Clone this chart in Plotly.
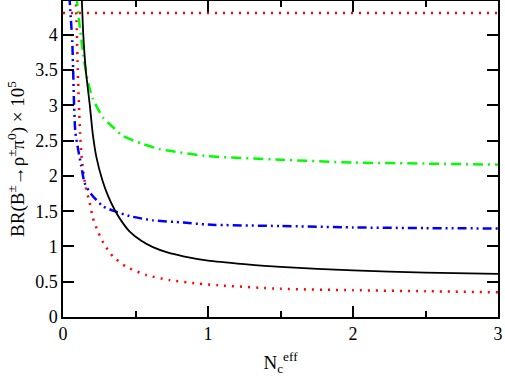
import plotly.graph_objects as go

# curves: N_c^eff -> BR x 10^5
black_x = [0.128, 0.14, 0.157, 0.185, 0.205, 0.23, 0.27, 0.31, 0.356, 0.4, 0.46, 0.54,
           0.62, 0.72, 0.83, 1.0, 1.25, 1.5, 2.0, 2.5, 3.0]
black_y = [4.6, 4.0, 3.5, 3.0, 2.6, 2.27, 1.95, 1.72, 1.52, 1.37, 1.21, 1.08,
           0.99, 0.915, 0.86, 0.80, 0.75, 0.71, 0.66, 0.63, 0.61]

green_x = [0.093, 0.105, 0.12, 0.14, 0.172, 0.207, 0.275, 0.345, 0.41, 0.54, 0.665,
           0.756, 1.0, 1.5, 2.0, 2.5, 3.0]
green_y = [4.55, 4.3, 4.05, 3.71, 3.33, 3.09, 2.83, 2.69, 2.57, 2.46, 2.38,
           2.35, 2.28, 2.23, 2.19, 2.175, 2.16]

blue_x = [0.044, 0.055, 0.064, 0.07, 0.075, 0.085, 0.104, 0.126, 0.149, 0.195, 0.275,
          0.356, 0.46, 0.62, 0.83, 1.0, 1.5, 2.0, 2.5, 3.0]
blue_y = [4.55, 4.2, 3.9, 3.5, 3.1, 2.62, 2.38, 2.14, 1.9, 1.74, 1.57,
          1.5, 1.43, 1.37, 1.34, 1.31, 1.29, 1.27, 1.26, 1.255]

red_x = [0.088, 0.096, 0.102, 0.11, 0.118, 0.127, 0.138, 0.156, 0.184, 0.207, 0.241,
         0.287, 0.345, 0.437, 0.574, 0.735, 0.92, 1.07, 1.5, 2.0, 2.5, 3.0]
red_y = [4.55, 4.0, 3.5, 3.0, 2.6, 2.3, 2.09, 1.85, 1.62, 1.40, 1.21,
         1.02, 0.856, 0.713, 0.595, 0.523, 0.476, 0.45, 0.40, 0.38, 0.365, 0.35]

# experimental bound (horizontal dotted line)
bound_x = [0.0, 3.0]
bound_y = [4.31, 4.31]

fig = go.Figure()
fig.add_trace(go.Scatter(x=bound_x, y=bound_y, mode='lines',
                         line=dict(color='#ff0000', width=2.5, dash='2px,6px')))
fig.add_trace(go.Scatter(x=red_x, y=red_y, mode='lines', line_shape='spline',
                         line=dict(color='#ff0000', width=2.5, dash='2px,6px', smoothing=0.6)))
fig.add_trace(go.Scatter(x=blue_x, y=blue_y, mode='lines', line_shape='spline',
                         line=dict(color='#0000ff', width=2.5, smoothing=0.6,
                                   dash='9px,4px,2px,4px,2px,4px')))
fig.add_trace(go.Scatter(x=green_x, y=green_y, mode='lines', line_shape='spline',
                         line=dict(color='#00ff00', width=2.5, smoothing=0.6,
                                   dash='10px,5px,2px,5px')))
fig.add_trace(go.Scatter(x=black_x, y=black_y, mode='lines', line_shape='spline',
                         line=dict(color='black', width=1.8, smoothing=0.6)))

font = dict(family='Liberation Serif', size=18, color='black')
title_font = dict(family='Liberation Serif', size=19, color='black')
axis_common = dict(showline=True, linecolor='black', linewidth=1.5, mirror='allticks',
                   ticks='inside', tickcolor='black', tickwidth=1.5, showgrid=False,
                   zeroline=False, tickfont=font, automargin=False)

fig.update_layout(
    width=505, height=382,
    margin=dict(l=63, r=7, t=1, b=65),
    paper_bgcolor='white', plot_bgcolor='white',
    showlegend=False,
    font=font,
    xaxis=dict(range=[0, 3], tick0=0, dtick=1, ticklen=11,
               minor=dict(dtick=0.5, ticks='inside', ticklen=6, tickcolor='black', tickwidth=1.5),
               title=dict(text='N<sub>c</sub><sup>eff</sup>', font=title_font, standoff=12),
               **axis_common),
    yaxis=dict(range=[0, 4.48], tick0=0, dtick=0.5, ticklen=11,
               title=dict(text='BR(B<sup>±</sup>→ρ<sup>±</sup>π<sup>0</sup>) × 10<sup>5</sup>',
                          font=title_font, standoff=6),
               **axis_common),
)

# drop the default page margin so the figure sits at the window's corner
fig.write_html("out.html", config={'displayModeBar': False},
               post_script="document.body.style.margin='0';")
